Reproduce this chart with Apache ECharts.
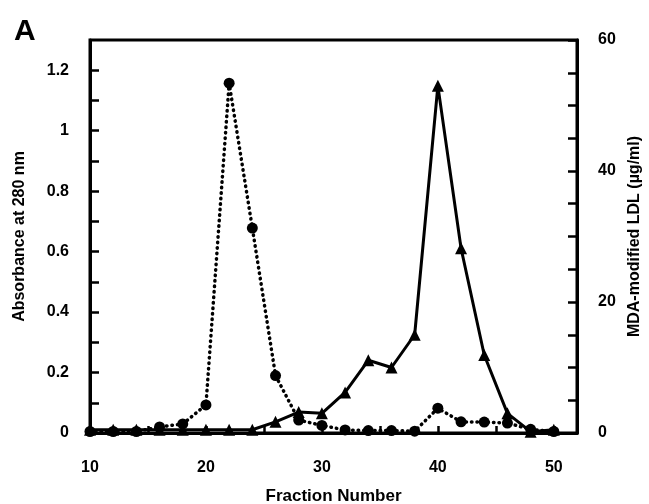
<!DOCTYPE html>
<html>
<head>
<meta charset="utf-8">
<title>Fraction profile</title>
<script src="https://cdn.jsdelivr.net/npm/echarts@6/dist/echarts.min.js"></script>
<style>
  html, body { margin: 0; padding: 0; background: #fff; }
  #main { width: 649px; height: 504px; }
</style>
</head>
<body>
<div id="main"></div>
<script>
// fraction numbers (x)
var fractions = [10, 12, 14, 16, 18, 20, 22, 24, 26, 28, 30, 32, 34, 36, 38, 40, 42, 44, 46, 48, 50];
// absorbance at 280 nm (circles, dotted, left axis)
var absorbance = [0.005, 0.005, 0.005, 0.02, 0.03, 0.093, 1.157, 0.678, 0.19, 0.043, 0.025, 0.01, 0.008, 0.008, 0.006, 0.082, 0.037, 0.036, 0.033, 0.012, 0.005];
// MDA-modified LDL ug/ml (triangles, solid, right axis)
var mdaLdl = [0.5, 0.5, 0.5, 0.5, 0.5, 0.5, 0.5, 0.5, 1.7, 3.2, 3.0, 6.2, 11.1, 10.0, 15.0, 53.0, 28.2, 11.9, 3.0, 0.2, 0.5];

var leftTicks = [0, 0.2, 0.4, 0.6, 0.8, 1, 1.2];
var rightTicks = [0, 20, 40, 60];
var xTicks = [10, 20, 30, 40, 50];

var absData = [], mdaData = [];
for (var i = 0; i < fractions.length; i++) {
    absData.push([fractions[i], absorbance[i]]);
    mdaData.push([fractions[i], mdaLdl[i]]);
}

var font = 'Liberation Sans, Arial, sans-serif';
var labelStyle = { color: '#000', fontFamily: font, fontWeight: 'bold', fontSize: 16 };
var axisLine = { show: true, lineStyle: { color: '#000', width: 3 } };

function inList(list, v) {
    for (var k = 0; k < list.length; k++) {
        if (Math.abs(list[k] - v) < 1e-6) return true;
    }
    return false;
}

var chart = echarts.init(document.getElementById('main'));
chart.setOption({
    animation: false,
    title: {
        text: 'A', left: 9, top: 12,
        textStyle: { color: '#000', fontFamily: font, fontWeight: 'bold', fontSize: 30 }
    },
    grid: {
        left: 90, right: 72, top: 40, bottom: 71, outerBoundsMode: 'none', containLabel: false,
        show: true, borderColor: '#000', borderWidth: 3, backgroundColor: 'transparent'
    },
    xAxis: {
        type: 'value', min: 10, max: 52, interval: 5,
        name: 'Fraction Number', nameLocation: 'middle', nameGap: 55,
        nameTextStyle: { color: '#000', fontFamily: font, fontWeight: 'bold', fontSize: 17 },
        axisLine: axisLine,
        axisTick: { show: true, inside: true, length: 7, lineStyle: { color: '#000', width: 2.5 } },
        axisLabel: {
            margin: 27, textStyle: labelStyle, showMaxLabel: false,
            formatter: function (v) { return inList(xTicks, v) ? String(v) : ''; }
        },
        splitLine: { show: false }
    },
    yAxis: [{
        type: 'value', min: 0, max: 1.3, interval: 0.1, position: 'left',
        name: 'Absorbance at 280 nm', nameLocation: 'middle', nameGap: 62, nameRotate: 90,
        nameTextStyle: { color: '#000', fontFamily: font, fontWeight: 'bold', fontSize: 16 },
        axisLine: axisLine,
        axisTick: { show: true, inside: true, length: 9, lineStyle: { color: '#000', width: 2.5 } },
        axisLabel: {
            margin: 21, textStyle: labelStyle, showMaxLabel: false,
            formatter: function (v) { return inList(leftTicks, v) ? String(+v.toFixed(1)) : ''; }
        },
        splitLine: { show: false }
    }, {
        type: 'value', min: 0, max: 60, interval: 5, position: 'right',
        name: 'MDA-modified LDL (µg/ml)', nameLocation: 'middle', nameGap: 50, nameRotate: 90,
        nameTextStyle: { color: '#000', fontFamily: font, fontWeight: 'bold', fontSize: 16 },
        axisLine: axisLine,
        axisTick: { show: true, inside: true, length: 9, lineStyle: { color: '#000', width: 2.5 } },
        axisLabel: {
            margin: 21, textStyle: labelStyle,
            formatter: function (v) { return inList(rightTicks, v) ? String(v) : ''; }
        },
        splitLine: { show: false }
    }],
    series: [{
        name: 'Absorbance', type: 'line', yAxisIndex: 0, data: absData,
        symbol: 'circle', symbolSize: 11, clip: false,
        lineStyle: { color: '#000', width: 3.5, type: [0.5, 5], cap: 'round' },
        itemStyle: { color: '#000' }
    }, {
        name: 'MDA-modified LDL', type: 'line', yAxisIndex: 1, data: mdaData,
        symbol: 'triangle', symbolSize: 12, clip: false,
        lineStyle: { color: '#000', width: 3 },
        itemStyle: { color: '#000' }
    }]
});
</script>
</body>
</html>
